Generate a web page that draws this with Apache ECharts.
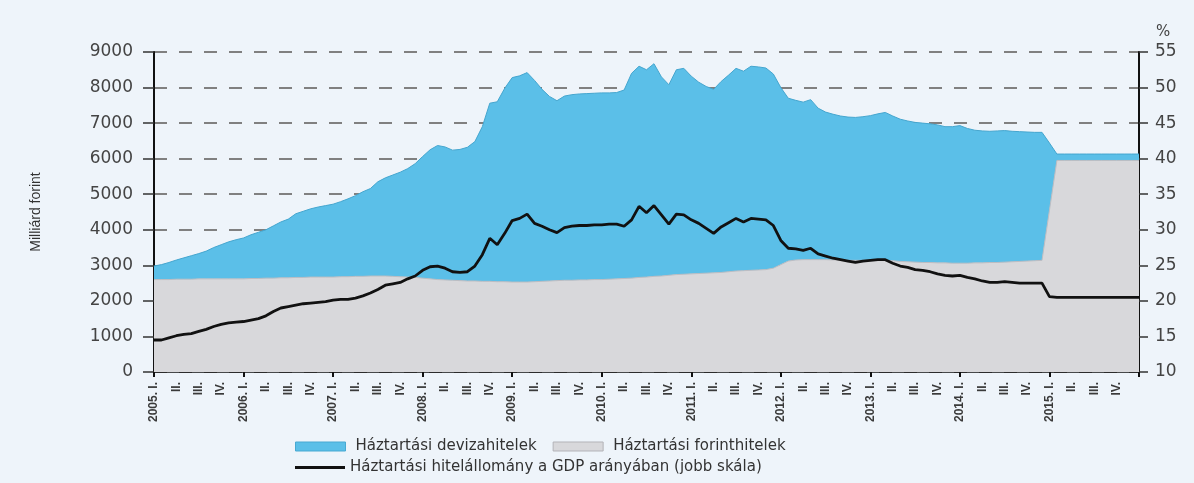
<!DOCTYPE html>
<html>
<head>
<meta charset="utf-8">
<script src="https://cdn.jsdelivr.net/npm/echarts@6/dist/echarts.min.js"></script>
<style>
html,body{margin:0;padding:0;background:#eef4fa;}
#chart{width:1194px;height:483px;}
</style>
</head>
<body>
<div id="chart"></div>
<script>
// Monthly observations, 2005-01 ... 2016-01 (133 points)
const years = [2005, 2006, 2007, 2008, 2009, 2010, 2011, 2012, 2013, 2014, 2015, 2016];
const quarterLabels = ['I.', 'II.', 'III.', 'IV.'];

// Háztartási forinthitelek (Mrd Ft)
const forint = [
  2600, 2600, 2600, 2610, 2610, 2610, 2620, 2620, 2620, 2620, 2620, 2620,
  2620, 2630, 2630, 2640, 2640, 2650, 2650, 2660, 2660, 2670, 2670, 2670,
  2670, 2680, 2680, 2690, 2690, 2700, 2700, 2700, 2690, 2680, 2670, 2660,
  2640, 2620, 2600, 2590, 2580, 2570, 2560, 2560, 2550, 2550, 2540, 2540,
  2530, 2530, 2530, 2540, 2550, 2560, 2570, 2580, 2580, 2590, 2590, 2600,
  2600, 2610, 2620, 2630, 2640, 2660, 2670, 2690, 2700, 2720, 2740, 2750,
  2760, 2770, 2780, 2790, 2800, 2820, 2840, 2850, 2860, 2870, 2880, 2920,
  3020, 3120, 3150, 3160, 3160, 3160, 3160, 3150, 3150, 3140, 3140, 3140,
  3140, 3140, 3130, 3130, 3110, 3100, 3090, 3080, 3080, 3070, 3070, 3060,
  3060, 3060, 3070, 3070, 3080, 3080, 3090, 3100, 3110, 3120, 3130, 3140,
  4550, 5950, 5950, 5950, 5950, 5950, 5950, 5950, 5950, 5950, 5950, 5950,
  5950
];

// Háztartási devizahitelek (Mrd Ft)
const deviza = [
  380, 420, 480, 540, 600, 660, 710, 780, 880, 960, 1040, 1100,
  1150, 1230, 1300, 1360, 1470, 1570, 1650, 1790, 1860, 1920, 1970, 2010,
  2050, 2110, 2190, 2270, 2380, 2460, 2650, 2760, 2850, 2940, 3050, 3200,
  3420, 3630, 3770, 3740, 3660, 3690, 3760, 3920, 4350, 5010, 5060, 5440,
  5750, 5800, 5890, 5660, 5400, 5190, 5060, 5180, 5220, 5230, 5240, 5240,
  5250, 5240, 5240, 5300, 5760, 5940, 5830, 5980, 5600, 5360, 5760, 5790,
  5560, 5380, 5250, 5160, 5370, 5530, 5700, 5610, 5740, 5710, 5670, 5460,
  4980, 4580, 4490, 4430, 4500, 4260, 4150, 4100, 4050, 4030, 4020, 4040,
  4070, 4120, 4170, 4070, 4000, 3960, 3930, 3920, 3900, 3880, 3830, 3840,
  3870, 3790, 3730, 3710, 3690, 3700, 3700, 3670, 3650, 3630, 3610, 3600,
  1890, 180, 180, 180, 180, 180, 180, 180, 180, 180, 180, 180,
  180
];

// Háztartási hitelállomány a GDP arányában (%)
const gdpRatio = [
  14.5, 14.5, 14.8, 15.1, 15.3, 15.4, 15.7, 16.0, 16.4, 16.7, 16.9, 17.0,
  17.1, 17.3, 17.5, 17.9, 18.5, 19.0, 19.2, 19.4, 19.6, 19.7, 19.8, 19.9,
  20.1, 20.2, 20.2, 20.4, 20.7, 21.1, 21.6, 22.2, 22.4, 22.6, 23.1, 23.5,
  24.3, 24.8, 24.9, 24.6, 24.1, 24.0, 24.1, 24.9, 26.5, 28.8, 27.9, 29.5,
  31.3, 31.6, 32.2, 30.9, 30.5, 30.0, 29.6, 30.3, 30.5, 30.6, 30.6, 30.7,
  30.7, 30.8, 30.8, 30.5, 31.4, 33.3, 32.4, 33.4, 32.1, 30.8, 32.2, 32.1,
  31.4, 30.9, 30.2, 29.5, 30.4, 31.0, 31.6, 31.1, 31.6, 31.5, 31.4, 30.6,
  28.5, 27.4, 27.3, 27.1, 27.4, 26.6, 26.3, 26.0, 25.8, 25.6, 25.4, 25.6,
  25.7, 25.8, 25.8, 25.3, 24.9, 24.7, 24.4, 24.3, 24.1, 23.8, 23.6, 23.5,
  23.6, 23.3, 23.1, 22.8, 22.6, 22.6, 22.7, 22.6, 22.5, 22.5, 22.5, 22.5,
  20.6, 20.5, 20.5, 20.5, 20.5, 20.5, 20.5, 20.5, 20.5, 20.5, 20.5, 20.5,
  20.5
];

const leftTicks = {min: 0, max: 9000, interval: 1000};
const rightTicks = {min: 10, max: 55, interval: 5};

const names = {
  deviza: 'Háztartási devizahitelek',
  forint: 'Háztartási forinthitelek',
  gdp: 'Háztartási hitelállomány a GDP arányában (jobb skála)'
};

// category list: one per month
const categories = [];
years.forEach(function (y) {
  for (let m = 1; m <= 12; m++) {
    if (categories.length < forint.length) categories.push(y + '-' + (m < 10 ? '0' + m : m));
  }
});

const chart = echarts.init(document.getElementById('chart'), null, {renderer: 'canvas'});
const numFont = 'DejaVu Sans';
const legendText = {fontFamily: numFont, fontSize: 15, color: '#333'};
chart.setOption({
  backgroundColor: '#eef4fa',
  animation: false,
  grid: {left: 154, right: 55, top: 52, bottom: 111},
  legend: [
    {
      data: [
        {name: names.deviza, itemStyle: {borderColor: '#48a9d2', borderWidth: 1}},
        {name: names.forint, itemStyle: {borderColor: '#b3b3b8', borderWidth: 1}}
      ],
      left: 290, top: 434,
      icon: 'rect', itemWidth: 50, itemHeight: 9, itemGap: 16,
      textStyle: Object.assign({padding: [0, 0, 0, 5]}, legendText)
    },
    {
      data: [names.gdp],
      left: 290, top: 455,
      icon: 'rect', itemWidth: 50, itemHeight: 3,
      textStyle: Object.assign({padding: [0, 0, 0, 0]}, legendText)
    }
  ],
  xAxis: {
    type: 'category',
    data: categories,
    boundaryGap: false,
    axisLine: {lineStyle: {color: '#111', width: 1.5}},
    axisTick: {
      show: true, length: 5, lineStyle: {color: '#111', width: 2},
      interval: function (i) { return i % 12 === 0; }
    },
    axisLabel: {
      rotate: 90, margin: 10,
      fontFamily: 'Liberation Sans', fontSize: 12, fontWeight: 'bold', color: '#3a3a3a',
      interval: function (i) { return i % 3 === 0 && i < categories.length - 1; },
      formatter: function (v, i) {
        const q = (i % 12) / 3;
        if (q === 0) return v.slice(0, 4) + '. ' + quarterLabels[0];
        return quarterLabels[q];
      }
    },
    splitLine: {show: false}
  },
  yAxis: [
    {
      type: 'value', position: 'left',
      min: leftTicks.min, max: leftTicks.max, interval: leftTicks.interval,
      name: 'Milliárd forint', nameLocation: 'middle', nameGap: 111,
      nameTextStyle: {fontFamily: 'Liberation Sans', fontSize: 14, color: '#333'},
      axisLine: {show: true, lineStyle: {color: '#111', width: 2}},
      axisTick: {show: true, length: 11, lineStyle: {color: '#333', width: 1.5}},
      axisLabel: {fontFamily: numFont, fontSize: 17, color: '#444', margin: 21,
        formatter: function (v) { return String(v); }},
      splitLine: {show: true, lineStyle: {color: '#808080', width: 2, type: [13, 12]}}
    },
    {
      type: 'value', position: 'right',
      min: rightTicks.min, max: rightTicks.max, interval: rightTicks.interval,
      name: '%', nameLocation: 'end', nameGap: 12,
      nameTextStyle: {fontFamily: numFont, fontSize: 15, color: '#444', align: 'left', padding: [0, 0, 0, 17]},
      axisLine: {show: true, lineStyle: {color: '#111', width: 2}},
      axisTick: {show: true, length: 9, lineStyle: {color: '#333', width: 1.5}},
      axisLabel: {fontFamily: numFont, fontSize: 17, color: '#444', margin: 16},
      splitLine: {show: false}
    }
  ],
  series: [
    {
      name: names.forint, type: 'line', stack: 'total', data: forint,
      showSymbol: false, symbol: 'none',
      itemStyle: {color: '#d8d8db'},
      lineStyle: {color: '#bdbdc2', width: 1},
      areaStyle: {color: '#d8d8db', opacity: 1},
      z: 2
    },
    {
      name: names.deviza, type: 'line', stack: 'total', data: deviza,
      showSymbol: false, symbol: 'none',
      itemStyle: {color: '#5bbfe8'},
      lineStyle: {color: '#45a6cf', width: 1},
      areaStyle: {color: '#5bbfe8', opacity: 1},
      z: 2
    },
    {
      name: names.gdp, type: 'line', yAxisIndex: 1, data: gdpRatio,
      showSymbol: false, symbol: 'none',
      itemStyle: {color: '#111'},
      lineStyle: {color: '#111', width: 2.8},
      z: 3
    }
  ]
});
</script>
</body>
</html>
